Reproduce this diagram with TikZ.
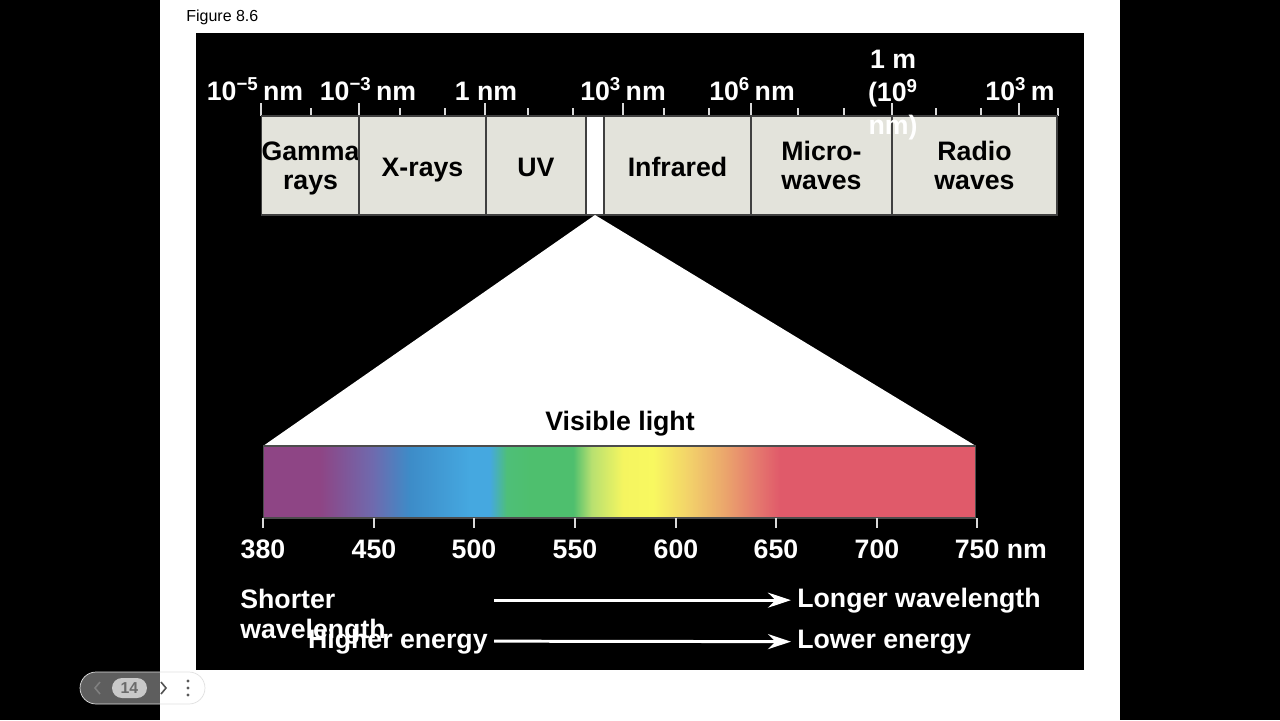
\documentclass[tikz,border=0pt]{standalone}
\usepackage{fontspec}
\setmainfont{Liberation Sans}
\usetikzlibrary{arrows.meta,positioning}

\definecolor{bandgray}{HTML}{E3E3DB}
\definecolor{specA}{HTML}{8E4585}
\definecolor{specB}{HTML}{6F6AAE}
\definecolor{specC}{HTML}{3D8CC8}
\definecolor{specD}{HTML}{45A8E0}
\definecolor{specE}{HTML}{4EBF78}
\definecolor{specF}{HTML}{4EBF6E}
\definecolor{specG}{HTML}{B8E070}
\definecolor{specH}{HTML}{F5F560}
\definecolor{specI}{HTML}{F8F860}
\definecolor{specJ}{HTML}{F2D06A}
\definecolor{specK}{HTML}{EBA86C}
\definecolor{specL}{HTML}{E5786E}
\definecolor{specM}{HTML}{E05A6A}
\definecolor{pagergray}{HTML}{C9C9C9}

\newcommand{\labfont}{\fontsize{15.2}{16.6}\selectfont\bfseries}

\pgfdeclarehorizontalshading{visspectrum}{100bp}{%
  color(0bp)=(specA); color(25bp)=(specA); color(29bp)=(specA);
  color(32.7bp)=(specB); color(35.3bp)=(specC); color(39.5bp)=(specD);
  color(40.9bp)=(specD); color(42.1bp)=(specE); color(43.7bp)=(specF);
  color(46.75bp)=(specF); color(48.05bp)=(specG); color(50.25bp)=(specH);
  color(52.35bp)=(specI); color(54.95bp)=(specJ); color(57.25bp)=(specK);
  color(59.65bp)=(specL); color(61.25bp)=(specM); color(75bp)=(specM);
  color(100bp)=(specM)}

\begin{document}
\begin{tikzpicture}[x=0.02cm, y=-0.02cm,
    band/.style={draw=black!75, line width=0.7pt, fill=bandgray, minimum height=1.98cm,
      inner sep=0pt, outer sep=0pt, align=center, font=\labfont, text depth=0pt},
    oneline/.style={text height=13pt},
    scalelab/.style={text=white, font=\labfont, inner sep=0pt},
    endlab/.style={text=white, font=\labfont, inner xsep=3.4pt, inner ysep=0pt},
    tickmark/.style={draw=white!85!black, line width=1.1pt},
    arr/.style={-{Stealth[length=4.6mm, width=3mm]}, draw=white, line width=1.7pt}]
  \useasboundingbox (0,0) rectangle (1280,720);

  % screen and slide
  \fill[black] (0,0) rectangle (1280,720);
  \fill[white] (160,0) rectangle (1120,720);
  \fill[black] (196,33) rectangle (1084,670);
  \node[anchor=base west, inner sep=0pt, font=\fontsize{9.1}{11}\selectfont] (figlabel) at (186,21) {Figure 8.6};

  % scale ticks
  \foreach \x in {261,359,485,623,751,892,1019}
    \draw[tickmark] (\x,103) -- (\x,116);
  \foreach \x in {311,400,445,528,573,664,709,798,844,936,981,1058}
    \draw[tickmark] (\x,108) -- (\x,116);

  % bands
  \node[band, minimum width=1.94cm] (gamma) at (310.5,165.5) {Gamma\\rays};
  \node[band, oneline, minimum width=2.54cm] (xray) at (422.5,165.5) {X-rays};
  \node[band, oneline, minimum width=2cm] (uv) at (536,165.5) {UV};
  \node[band, minimum width=0.36cm, fill=white] (vis) at (595,165.5) {};
  \node[band, oneline, minimum width=2.94cm] (infra) at (677.5,165.5) {Infrared};
  \node[band, minimum width=2.82cm] (micro) at (821.5,165.5) {Micro-\\waves};
  \node[band, minimum width=3.3cm] (radio) at (974.5,165.5) {Radio\\waves};

  % scale labels
  \node[scalelab, anchor=base] (s1) at (255,100) {10\textsuperscript{−5}\,nm};
  \node[scalelab, anchor=base] (s2) at (368,100) {10\textsuperscript{−3}\,nm};
  \node[scalelab, anchor=base] (s3) at (486,100) {1 nm};
  \node[scalelab, anchor=base] (s4) at (623,100) {10\textsuperscript{3}\,nm};
  \node[scalelab, anchor=base] (s5) at (752,100) {10\textsuperscript{6}\,nm};
  \node[scalelab, align=center, font=\fontsize{15.2}{18.7}\selectfont\bfseries] (s6) at (893,95) {1 m\\(10\textsuperscript{9}\\nm)};
  \node[scalelab, anchor=base] (s7) at (1020,100) {10\textsuperscript{3}\,m};

  % visible part
  \node[draw=black!70, line width=0.6pt, shading=visspectrum, minimum width=14.26cm,
    minimum height=1.44cm, inner sep=0pt, outer sep=0pt] (spec) at (619.5,482) {};
  \fill[white] (vis.south) -- (spec.north west) -- (spec.north east) -- cycle;
  \draw[black!70, line width=0.6pt] (spec.north west) -- (spec.north east);
  \node[anchor=base, inner sep=0pt, font=\labfont] (vislabel) at (620,430) {Visible light};

  \foreach \x/\lab in {263/380, 374/450, 474/500, 575/550, 676/600, 776/650, 877/700} {
    \draw[tickmark] (\x,518) -- (\x,528);
    \node[scalelab, anchor=base] (nm\lab) at (\x,558) {\lab};
  }
  \draw[tickmark] (977,518) -- (977,528);
  \node[scalelab, anchor=base west] (nm750) at (954.5,558) {750 nm};

  % wavelength and energy
  \node[endlab, anchor=north west, align=left, font=\fontsize{15.2}{17}\selectfont\bfseries] (shorter) at (234,589) {Shorter\\wavelength};
  \node[endlab, anchor=base west] (longer) at (791,607) {Longer wavelength};
  \node[endlab, anchor=base east] (higher) at (494,648) {Higher energy};
  \node[endlab, anchor=base west] (lower) at (791,648) {Lower energy};
  \draw[arr] (longer.west -| higher.east) -- (longer.west);
  \draw[arr] (higher.east) -- (lower.west);

  % pager
  \node[draw=black!12, fill=white, fill opacity=0.37, draw opacity=1, rounded corners=0.32cm,
    minimum width=2.5cm, minimum height=0.64cm, inner sep=0pt] (pager) at (142.5,688) {};
  \node[fill=pagergray, rounded corners=0.2cm, minimum width=0.7cm, minimum height=0.4cm,
    inner sep=0pt, text=black!58, font=\fontsize{9}{10}\selectfont\bfseries] (page) at (129.5,688) {14};
  \draw[black!50, line width=0.9pt] (100,682) -- (95,688) -- (100,694);
  \draw[black!68, line width=0.9pt] (161,682) -- (166,688) -- (161,694);
  \foreach \y in {681,688,695}
    \fill[black!65] (188,\y) circle (1.7);
\end{tikzpicture}
\end{document}
